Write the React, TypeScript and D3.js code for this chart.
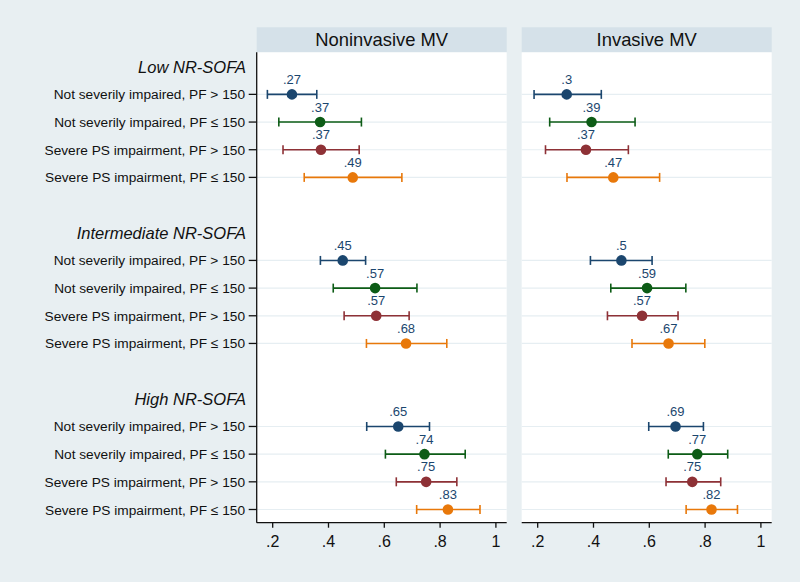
import React from "react";
import * as d3 from "d3";

const groups = ["Low NR-SOFA", "Intermediate NR-SOFA", "High NR-SOFA"];
const rowLabels = [
  "Not severily impaired, PF > 150",
  "Not severily impaired, PF \u2264 150",
  "Severe PS impairment, PF > 150",
  "Severe PS impairment, PF \u2264 150",
];
const panels = ["Noninvasive MV", "Invasive MV"];
const xTicks = [0.2, 0.4, 0.6, 0.8, 1];

// group-major: Low(4 rows), Intermediate(4), High(4)
const nonInvEst = [0.269, 0.370, 0.373, 0.487, 0.451, 0.567, 0.571, 0.678, 0.650, 0.744, 0.750, 0.828];
const nonInvLo = [0.181, 0.222, 0.237, 0.313, 0.371, 0.417, 0.456, 0.536, 0.537, 0.604, 0.643, 0.716];
const nonInvHi = [0.358, 0.518, 0.510, 0.663, 0.533, 0.717, 0.689, 0.824, 0.762, 0.890, 0.860, 0.943];

const invEst = [0.304, 0.393, 0.373, 0.471, 0.500, 0.592, 0.574, 0.669, 0.694, 0.772, 0.754, 0.823];
const invLo = [0.187, 0.243, 0.228, 0.305, 0.389, 0.462, 0.450, 0.538, 0.598, 0.668, 0.660, 0.732];
const invHi = [0.428, 0.549, 0.525, 0.637, 0.610, 0.731, 0.703, 0.799, 0.794, 0.881, 0.856, 0.916];

const panelData = [
  { est: nonInvEst, lo: nonInvLo, hi: nonInvHi },
  { est: invEst, lo: invLo, hi: invHi },
];

const rowColors = ["#1b466e", "#0d5c16", "#8e3136", "#e8780a"];

const W = 800;
const H = 582;
const panelLeft = [256.7, 521.7];
const panelWidth = 250;
const plotTop = 52.3;
const plotBottom = 522.7;
const headerTop = 27.3;
const font = "'Liberation Sans', Arial, Helvetica, sans-serif";

const fmt = (v: number) => Number(v.toFixed(2)).toString().replace(/^0(?=\.)/, "");

export default function App() {
  const y = d3.scaleLinear().domain([0, 16]).range([66.7, 509.5]);
  const slot = (g: number, r: number) => g * 6 + 1 + r;

  return (
    <svg
      width={W}
      height={H}
      style={{ position: "absolute", left: 0, top: 0 }}
      fontFamily={font}
    >
      <rect x={0} y={0} width={W} height={H} fill="#e8eff2" />
      {panels.map((p, pi) => {
        const x = d3
          .scaleLinear()
          .domain([0.1427, 1.0387])
          .range([panelLeft[pi], panelLeft[pi] + panelWidth]);
        const d = panelData[pi];
        return (
          <g key={p}>
            <rect
              x={panelLeft[pi]}
              y={headerTop}
              width={panelWidth}
              height={plotTop - headerTop}
              fill="#d5e1e9"
            />
            <text
              x={panelLeft[pi] + panelWidth / 2}
              y={46.3}
              textAnchor="middle"
              fontSize={18.4}
              fill="#111"
            >
              {p}
            </text>
            <rect
              x={panelLeft[pi]}
              y={plotTop}
              width={panelWidth}
              height={plotBottom - plotTop}
              fill="#ffffff"
            />
            {groups.map((g, gi) =>
              rowLabels.map((_, ri) => (
                <line
                  key={`grid-${gi}-${ri}`}
                  x1={panelLeft[pi]}
                  x2={panelLeft[pi] + panelWidth}
                  y1={y(slot(gi, ri))}
                  y2={y(slot(gi, ri))}
                  stroke="#e6eef2"
                  strokeWidth={1.2}
                />
              ))
            )}
            {groups.map((g, gi) =>
              rowLabels.map((_, ri) => {
                const i = gi * 4 + ri;
                const yy = y(slot(gi, ri));
                const c = rowColors[ri];
                return (
                  <g key={`m-${gi}-${ri}`}>
                    <line x1={x(d.lo[i])} x2={x(d.hi[i])} y1={yy} y2={yy} stroke={c} strokeWidth={1.6} />
                    <line x1={x(d.lo[i])} x2={x(d.lo[i])} y1={yy - 4.5} y2={yy + 4.5} stroke={c} strokeWidth={1.6} />
                    <line x1={x(d.hi[i])} x2={x(d.hi[i])} y1={yy - 4.5} y2={yy + 4.5} stroke={c} strokeWidth={1.6} />
                    <circle cx={x(d.est[i])} cy={yy} r={5.3} fill={c} />
                    <text
                      x={x(d.est[i])}
                      y={yy - 10.5}
                      textAnchor="middle"
                      fontSize={13}
                      fill="#1b466e"
                    >
                      {fmt(d.est[i])}
                    </text>
                  </g>
                );
              })
            )}
            {/* x axis */}
            <line
              x1={panelLeft[pi]}
              x2={panelLeft[pi] + panelWidth}
              y1={plotBottom}
              y2={plotBottom}
              stroke="#111"
              strokeWidth={1.3}
            />
            {xTicks.map((t) => (
              <g key={`t-${t}`}>
                <line x1={x(t)} x2={x(t)} y1={plotBottom} y2={plotBottom + 5} stroke="#111" strokeWidth={1.3} />
                <text x={x(t)} y={546.7} textAnchor="middle" fontSize={16} fill="#111">
                  {fmt(t)}
                </text>
              </g>
            ))}
          </g>
        );
      })}
      {/* y axis on first panel */}
      <line
        x1={panelLeft[0]}
        x2={panelLeft[0]}
        y1={plotTop}
        y2={plotBottom}
        stroke="#111"
        strokeWidth={1.3}
      />
      {groups.map((g, gi) => (
        <g key={`yl-${gi}`}>
          <text
            x={246}
            y={y(gi * 6) + 6}
            textAnchor="end"
            fontSize={16.5}
            fontStyle="italic"
            fill="#111"
          >
            {g}
          </text>
          {rowLabels.map((r, ri) => {
            const yy = y(slot(gi, ri));
            return (
              <g key={`rl-${gi}-${ri}`}>
                <line x1={panelLeft[0] - 8} x2={panelLeft[0]} y1={yy} y2={yy} stroke="#111" strokeWidth={1.3} />
                <text x={245} y={yy + 5} textAnchor="end" fontSize={13.7} fill="#111">
                  {r}
                </text>
              </g>
            );
          })}
        </g>
      ))}
    </svg>
  );
}
